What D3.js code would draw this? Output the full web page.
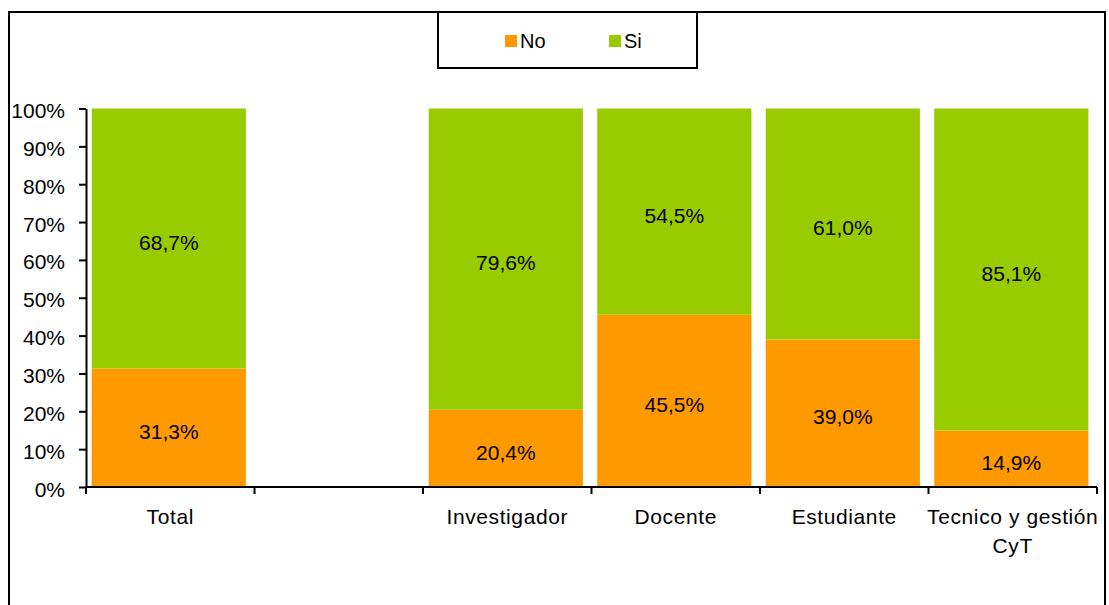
<!DOCTYPE html>
<html>
<head>
<meta charset="utf-8">
<script src="https://cdn.jsdelivr.net/npm/d3@7"></script>
<style>
  html, body { margin: 0; padding: 0; background: #fff; }
  svg { display: block; font-family: "Liberation Sans", Arial, sans-serif; }
</style>
</head>
<body>
<svg id="chart" width="1109" height="605"></svg>
<script>
const categories = ["Total", "", "Investigador", "Docente", "Estudiante", "Tecnico y gestión\nCyT"];
const noValues = [31.3, null, 20.4, 45.5, 39.0, 14.9];
const siValues = [68.7, null, 79.6, 54.5, 61.0, 85.1];
const yTicks = [0, 10, 20, 30, 40, 50, 60, 70, 80, 90, 100];
const seriesNames = ["No", "Si"];
const colors = ["#FF9900", "#99CC00"];

const fmt = v => v.toFixed(1).replace(".", ",") + "%";

const svg = d3.select("#chart");

// outer border
svg.append("rect").attr("x", 9).attr("y", 12).attr("width", 1096).attr("height", 620)
  .attr("fill", "none").attr("stroke", "#000").attr("stroke-width", 2);

const x = d3.scaleBand().domain(d3.range(categories.length)).range([86, 1097])
  .paddingInner(0.085).paddingOuter(0.0425).align(0.4);
const y = d3.scaleLinear().domain([0, 100]).range([487, 108.5]);

// bars
const data = categories.map((c, i) => ({ i, no: noValues[i], si: siValues[i] })).filter(d => d.no != null);
const series = d3.stack().keys(["no", "si"])(data);

const g = svg.append("g");
series.forEach((s, k) => {
  g.selectAll(null).data(s).enter().append("rect")
    .attr("x", d => x(d.data.i))
    .attr("width", x.bandwidth())
    .attr("y", d => y(d[1]))
    .attr("height", d => y(d[0]) - y(d[1]))
    .attr("fill", colors[k]);
  g.selectAll(null).data(s).enter().append("text")
    .attr("x", d => x(d.data.i) + x.bandwidth() / 2)
    .attr("y", d => (y(d[0]) + y(d[1])) / 2)
    .attr("dy", "0.53em")
    .attr("text-anchor", "middle")
    .attr("font-size", 21)
    .attr("fill", "#000")
    .text(d => fmt(d[1] - d[0]));
});

// y axis
const yAxis = svg.append("g").attr("transform", "translate(86,0)")
  .call(d3.axisLeft(y).tickValues(yTicks).tickFormat(d => d + "%").tickSize(7).tickPadding(14).tickSizeOuter(0));
yAxis.select(".domain").attr("stroke", "#000").attr("stroke-width", 2);
yAxis.selectAll(".tick line").attr("stroke", "#000").attr("stroke-width", 2);
yAxis.selectAll(".tick text").attr("font-size", 21).attr("font-family", "Liberation Sans, Arial, sans-serif")
  .attr("fill", "#000").attr("dy", "0.43em");

// x axis (ticks at category boundaries)
const x0 = x.range()[0], step = x.step();
const boundaries = d3.range(categories.length + 1).map(i => x0 + i * step);
svg.append("line").attr("x1", boundaries[0]).attr("x2", boundaries[boundaries.length - 1])
  .attr("y1", y(0)).attr("y2", y(0)).attr("stroke", "#000").attr("stroke-width", 2);
svg.selectAll(null).data(boundaries).enter().append("line")
  .attr("x1", d => d).attr("x2", d => d).attr("y1", y(0)).attr("y2", y(0) + 7)
  .attr("stroke", "#000").attr("stroke-width", 2);

const labels = svg.selectAll(null).data(categories).enter().append("text")
  .attr("text-anchor", "middle")
  .attr("font-size", 21)
  .attr("letter-spacing", "0.6px")
  .attr("fill", "#000")
  .attr("transform", (d, i) => `translate(${x0 + (i + 0.5) * step},524)`);
labels.each(function(d) {
  d.split("\n").forEach((line, j) => {
    d3.select(this).append("tspan").attr("x", 0).attr("y", j * 29).text(line);
  });
});

// legend
const lg = svg.append("g");
lg.append("rect").attr("x", 438).attr("y", 12).attr("width", 259).attr("height", 56)
  .attr("fill", "#fff").attr("stroke", "#000").attr("stroke-width", 2);
const legendX = [505, 609];
seriesNames.forEach((n, k) => {
  lg.append("rect").attr("x", legendX[k]).attr("y", 35).attr("width", 12).attr("height", 12).attr("fill", colors[k]);
  lg.append("text").attr("x", legendX[k] + 15).attr("y", 48).attr("font-size", 20).attr("fill", "#000").text(n);
});
</script>
</body>
</html>
